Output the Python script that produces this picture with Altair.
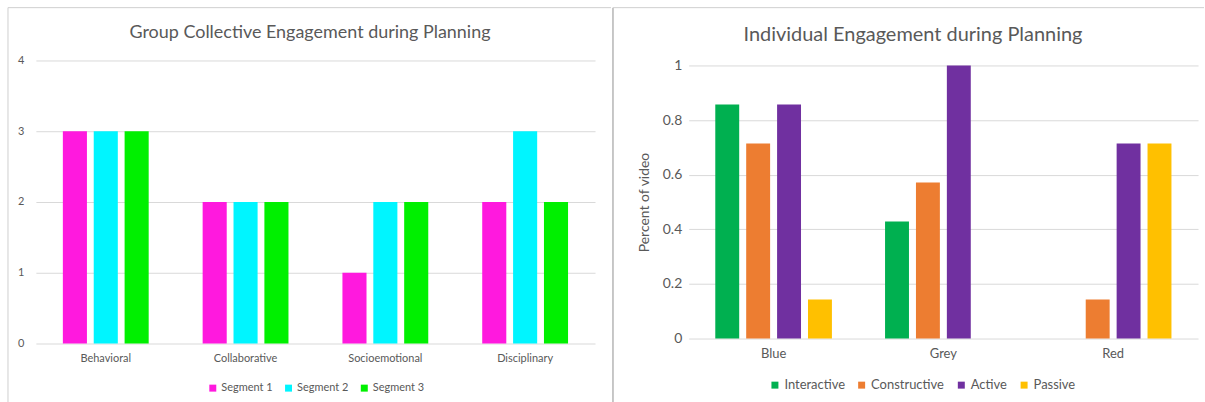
import altair as alt
import pandas as pd

# ---------------- data ----------------
g_cats = ["Behavioral", "Collaborative", "Socioemotional", "Disciplinary"]
g_series = ["Segment 1", "Segment 2", "Segment 3"]
seg1 = [3, 2, 1, 2]
seg2 = [3, 2, 2, 3]
seg3 = [3, 2, 2, 2]
g_colors = ["#FF19DE", "#00F5FF", "#00F000"]
g_ticks = [0, 1, 2, 3, 4]

i_cats = ["Blue", "Grey", "Red"]
i_series = ["Interactive", "Constructive", "Active", "Passive"]
interactive = [0.857, 0.429, 0.0]
constructive = [0.714, 0.571, 0.143]
active = [0.857, 1.0, 0.714]
passive = [0.143, 0.0, 0.714]
i_colors = ["#00B050", "#ED7D31", "#7030A0", "#FFC000"]
i_ticks = [0, 0.2, 0.4, 0.6, 0.8, 1]

title_left = "Group Collective Engagement during Planning"
title_right = "Individual Engagement during Planning"
y_title_right = "Percent of video"

g_rows = []
for s, vals in zip(g_series, [seg1, seg2, seg3]):
    for c, v in zip(g_cats, vals):
        g_rows.append({"cat": c, "series": s, "value": v})
df_g = pd.DataFrame(g_rows)

i_rows = []
for s, vals in zip(i_series, [interactive, constructive, active, passive]):
    for c, v in zip(i_cats, vals):
        i_rows.append({"cat": c, "series": s, "value": v})
df_i = pd.DataFrame(i_rows)

FONT = "Lato"
TXT = "#595959"
GRID = "#D9D9D9"
BORDER = "#CFCFCF"
DIVIDER = "#B5B5B5"

# ---------------- left chart ----------------
LW, LH = 561, 284

bars_l = alt.Chart(df_g).mark_bar().encode(
    x=alt.X("cat:N", sort=g_cats,
            scale=alt.Scale(paddingInner=0.386, paddingOuter=0.193),
            axis=alt.Axis(title=None, labelAngle=0, ticks=False, domain=False,
                          labelFont=FONT, labelFontSize=11, labelColor=TXT,
                          labelPadding=9)),
    xOffset=alt.XOffset("series:N", sort=g_series,
                        scale=alt.Scale(paddingInner=0.22, paddingOuter=0)),
    y=alt.Y("value:Q", scale=alt.Scale(domain=[0, 4], nice=False),
            axis=alt.Axis(title=None, values=g_ticks, ticks=False, domain=False,
                          grid=True, gridColor=GRID, gridWidth=1,
                          labelFont=FONT, labelFontSize=11, labelColor=TXT,
                          labelPadding=12)),
    color=alt.Color("series:N", sort=g_series,
                    scale=alt.Scale(domain=g_series, range=g_colors),
                    legend=alt.Legend(orient="none", direction="horizontal",
                                      legendX=172, legendY=323, title=None,
                                      symbolType="square", symbolSize=49,
                                      symbolStrokeWidth=0, labelFont=FONT,
                                      labelFontSize=11, labelColor=TXT,
                                      labelOffset=3, columnPadding=10)),
)

one = alt.Data(values=[{"a": 1}])
t_l = alt.Chart(alt.Data(values=[{"t": title_left}])).mark_text(
    font=FONT, fontSize=18, color=TXT, align="center", baseline="middle"
).encode(text="t:N", x=alt.value(275), y=alt.value(-28))

vb_l = alt.Chart(one).mark_rule(color=BORDER, strokeWidth=1).encode(
    x=alt.value(-28), y=alt.value(-53), y2=alt.value(343))
hb_l = alt.Chart(one).mark_rule(color=BORDER, strokeWidth=1).encode(
    x=alt.value(-28), x2=alt.value(577), y=alt.value(-53))

left = alt.layer(bars_l, t_l, vb_l, hb_l).properties(width=LW, height=LH)

# ---------------- right chart ----------------
# plot origin shared with the left chart (row-aligned); the y range starts 5px lower
RW, RH = 511, 279

bars_r = alt.Chart(df_i).mark_bar().encode(
    x=alt.X("cat:N", sort=i_cats,
            scale=alt.Scale(paddingInner=0.313, paddingOuter=0.1565),
            axis=alt.Axis(title=None, labelAngle=0, ticks=False, domain=False,
                          labelFont=FONT, labelFontSize=13, labelColor=TXT,
                          labelPadding=9)),
    xOffset=alt.XOffset("series:N", sort=i_series,
                        scale=alt.Scale(paddingInner=0.226, paddingOuter=0)),
    y=alt.Y("value:Q", scale=alt.Scale(domain=[0, 1], nice=False, range=[279, 5]),
            axis=alt.Axis(title=y_title_right, values=i_ticks, format="~g",
                          ticks=False, domain=False, grid=True, gridColor=GRID,
                          gridWidth=1, labelFont=FONT, labelFontSize=14,
                          labelColor=TXT, labelPadding=7, titleFont=FONT,
                          titleFontSize=14, titleFontWeight="normal",
                          titleColor=TXT, titlePadding=11)),
    color=alt.Color("series:N", sort=i_series,
                    scale=alt.Scale(domain=i_series, range=i_colors),
                    legend=alt.Legend(orient="none", direction="horizontal",
                                      legendX=80, legendY=319, title=None,
                                      symbolType="square", symbolSize=49,
                                      symbolStrokeWidth=0, labelFont=FONT,
                                      labelFontSize=13, labelColor=TXT,
                                      labelOffset=3, columnPadding=10)),
)

t_r = alt.Chart(alt.Data(values=[{"t": title_right}])).mark_text(
    font=FONT, fontSize=20, color=TXT, align="center", baseline="middle"
).encode(text="t:N", x=alt.value(225), y=alt.value(-26))

vb_r = alt.Chart(one).mark_rule(color=DIVIDER, strokeWidth=1.5).encode(
    x=alt.value(-76), y=alt.value(-53), y2=alt.value(343))
hb_r = alt.Chart(one).mark_rule(color=BORDER, strokeWidth=1).encode(
    x=alt.value(-76), x2=alt.value(517), y=alt.value(-53))

right = alt.layer(bars_r, t_r, vb_r, hb_r).properties(width=RW, height=RH)

chart = alt.hconcat(left, right, spacing=0).resolve_scale(
    color="independent", x="independent", y="independent", xOffset="independent"
).resolve_legend(color="independent").properties(
    padding={"left": 7, "top": 6, "right": 0, "bottom": 0},
    background="white",
).configure_view(stroke=None)

chart.save("out.html", embed_options={"renderer": "svg", "actions": False})
